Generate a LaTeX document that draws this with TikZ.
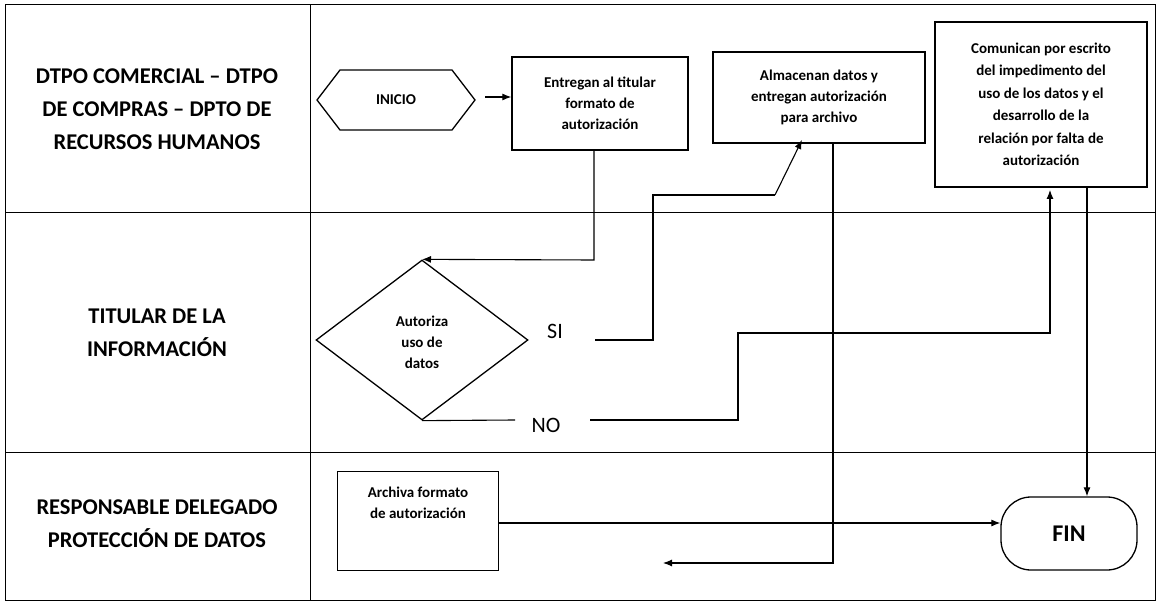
\documentclass[tikz,border=0pt]{standalone}
\usepackage{fontspec}
\setmainfont{Carlito}
\usetikzlibrary{shapes.geometric,arrows.meta}
\begin{document}
\begin{tikzpicture}[x=1pt,y=-1pt,
  box/.style={draw,line width=1.3pt,align=center,font=\bfseries\fontsize{15}{21}\selectfont,inner sep=0},
  lane/.style={align=center,font=\bfseries\fontsize{22.5}{33}\selectfont},
  lbl/.style={font=\fontsize{22}{26}\selectfont},
  con/.style={line width=1.1pt},
  arr/.style={line width=1.1pt,-{Latex[length=9pt,width=7pt]}}]
\useasboundingbox (0,0) rectangle (1160,604);
\draw[line width=1pt] (5,5) rectangle (1155,600);
\draw[line width=1pt] (310,5) -- (310,600);
\draw[line width=1pt] (5,213) -- (1155,213);
\draw[line width=1pt] (5,452) -- (1155,452);
\node[lane] (l1) at (157,109) {DTPO COMERCIAL – DTPO\\DE COMPRAS – DPTO DE\\RECURSOS HUMANOS};
\node[lane] (l2) at (157,333) {TITULAR DE LA\\INFORMACIÓN};
\node[lane] (l3) at (157,524) {RESPONSABLE DELEGADO\\PROTECCIÓN DE DATOS};
\draw[line width=1.3pt] (317,100) -- (340,70) -- (452,70) -- (475,100) -- (452,130) -- (340,130) -- cycle;
\node[font=\bfseries\fontsize{15}{18}\selectfont] (ini) at (396,100) {INICIO};
\coordinate (iniE) at (485,97);
\node[box,minimum width=176,minimum height=93] (b1) at (600,103.5) {Entregan al titular\\formato de\\autorización};
\node[box,minimum width=212,minimum height=91] (b2) at (819,97.5) {Almacenan datos y\\entregan autorización\\para archivo};
\node[box,minimum width=212,minimum height=165,font=\bfseries\fontsize{15}{22.5}\selectfont] (b3) at (1041,104.5) {Comunican por escrito\\del impedimento del\\uso de los datos y el\\desarrollo de la\\relación por falta de\\autorización};
\node[box,diamond,minimum width=212,minimum height=160] (d) at (422,340) {};
\node[font=\bfseries\fontsize{15}{21}\selectfont,align=center] (dt) at (422,342) {Autoriza\\uso de\\datos};
\node[box,minimum width=161,minimum height=99,anchor=north west] (b4) at (337,471) {};
\node[font=\bfseries\fontsize{15}{21}\selectfont,align=center] (b4t) at (418,503) {Archiva formato\\de autorización};
\node[box,rounded corners=30,minimum width=136,minimum height=73,font=\bfseries\fontsize{24}{28}\selectfont] (fin) at (1069,533.5) {FIN};
\node[lbl] (si) at (555,331) {SI};
\node[lbl] (no) at (546,425) {NO};
\draw[arr] (iniE) -- (b1.west |- iniE);
\draw[arr] (594,150) -- (594,260) -- (d.north);
\draw[con] (595,340) -- (653,340) -- (653,195) -- (775,195);
\draw[arr] (775,195) -- (802,140);
\draw[con] (d.south) -- (515,420);
\draw[arr] (590,420) -- (738,420) -- (738,333) -- (1050,333) -- (1050,190);
\draw[arr] (833,143) -- (833,563) -- (663,563);
\draw[arr] (1087,187) -- (fin.north -| 1087,0);
\draw[arr] (498,523) -- (fin.west |- 0,523);
\end{tikzpicture}
\end{document}
